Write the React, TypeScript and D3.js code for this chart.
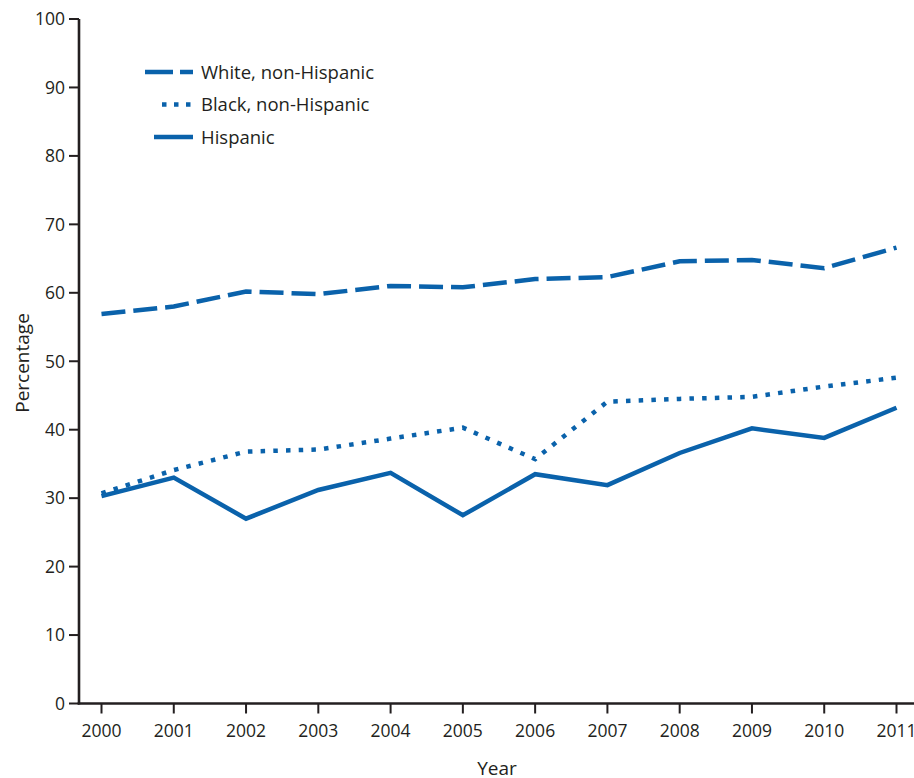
import React from "react";
import * as d3 from "d3";

const years = [2000, 2001, 2002, 2003, 2004, 2005, 2006, 2007, 2008, 2009, 2010, 2011];
const whiteValues = [56.9, 58.0, 60.2, 59.8, 61.0, 60.8, 62.0, 62.3, 64.6, 64.8, 63.6, 66.6];
const blackValues = [30.7, 34.1, 36.8, 37.1, 38.7, 40.3, 35.7, 44.1, 44.5, 44.8, 46.3, 47.6];
const hispanicValues = [30.3, 33.0, 27.0, 31.2, 33.7, 27.5, 33.5, 31.9, 36.6, 40.2, 38.8, 43.2];
const seriesNames = ["White, non-Hispanic", "Black, non-Hispanic", "Hispanic"];
const yTicks = [0, 10, 20, 30, 40, 50, 60, 70, 80, 90, 100];

const W = 914;
const H = 778;
const blue = "#0a62ab";
const ink = "#231f20";
const font = "'Open Sans', 'DejaVu Sans', sans-serif";

// stroke style per series
const dashes = ["24 8", "4.5 8.2", null];

const x = d3.scaleLinear().domain([2000, 2011]).range([101.5, 896.5]);
const y = d3.scaleLinear().domain([0, 100]).range([703.5, 19]);

const line = d3
  .line<number>()
  .x((_, i) => x(years[i]))
  .y((d) => y(d));

export default function App() {
  const series = [whiteValues, blackValues, hispanicValues];
  return (
    <svg
      width={W}
      height={H}
      style={{ position: "absolute", left: 0, top: 0, background: "#fff" }}
      fontFamily={font}
    >
      {/* y axis */}
      {yTicks.map((t) => (
        <g key={t}>
          <line x1={69} x2={79} y1={y(t)} y2={y(t)} stroke={ink} strokeWidth={2} />
          <text x={65} y={y(t)} dy="0.36em" textAnchor="end" fontSize={17.5} fill={ink}>
            {t}
          </text>
        </g>
      ))}
      <line x1={79} x2={79} y1={y(100)} y2={y(0) + 1} stroke={ink} strokeWidth={2.6} />
      {/* x axis */}
      {years.map((yr) => (
        <g key={yr}>
          <line x1={x(yr)} x2={x(yr)} y1={y(0)} y2={y(0) + 10} stroke={ink} strokeWidth={2} />
          <text x={x(yr)} y={731} dy="0.36em" textAnchor="middle" fontSize={17.5} fill={ink}>
            {yr}
          </text>
        </g>
      ))}
      <line x1={77.7} x2={W} y1={y(0)} y2={y(0)} stroke={ink} strokeWidth={2.6} />
      <text x={497} y={768} dy="0.36em" textAnchor="middle" fontSize={19} fill={ink}>
        Year
      </text>
      <text
        transform="translate(22,363) rotate(-90)"
        dy="0.36em"
        textAnchor="middle"
        fontSize={19}
        fill={ink}
      >
        Percentage
      </text>

      {/* series */}
      {series.map((vals, i) => (
        <path
          key={i}
          d={line(vals) || ""}
          fill="none"
          stroke={blue}
          strokeWidth={4.5}
          strokeDasharray={dashes[i] || undefined}
          strokeLinejoin="miter"
        />
      ))}

      {/* legend */}
      {seriesNames.map((name, i) => {
        const ly = 72 + i * 32.5;
        const x0 = [145, 162, 154][i];
        return (
          <g key={name}>
            <line
              x1={x0}
              x2={193}
              y1={ly}
              y2={ly}
              stroke={blue}
              strokeWidth={4.5}
              strokeDasharray={i === 0 ? "28 7" : i === 1 ? "4.5 7.5" : undefined}
            />
            <text x={201} y={ly} dy="0.36em" fontSize={18.5} fill={ink}>
              {name}
            </text>
          </g>
        );
      })}
    </svg>
  );
}
